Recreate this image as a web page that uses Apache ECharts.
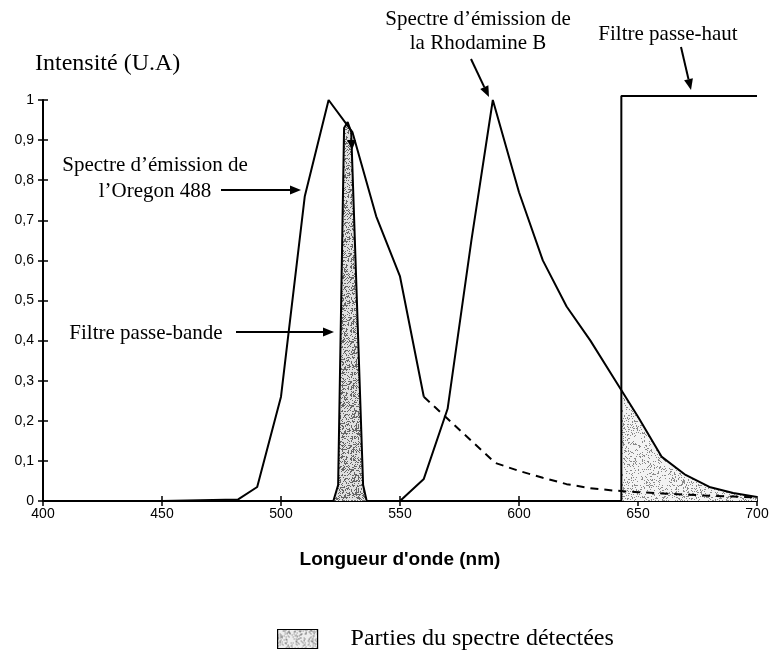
<!DOCTYPE html>
<html><head><meta charset="utf-8">
<script src="https://cdn.jsdelivr.net/npm/echarts@6/dist/echarts.min.js"></script>
<style>html,body{margin:0;padding:0;background:#fff}#c{width:775px;height:650px}</style>
</head><body><div id="c"></div>
<script>
// ---- data ----
const xTicks = [400, 450, 500, 550, 600, 650, 700];
const yTickLabels = ['0', '0,1', '0,2', '0,3', '0,4', '0,5', '0,6', '0,7', '0,8', '0,9', '1'];

const oregonNm  = [400, 450, 482, 490, 500, 510, 520, 530, 540, 550, 560];
const oregonVal = [0, 0, 0.004, 0.035, 0.26, 0.76, 1.0, 0.92, 0.71, 0.56, 0.26];

const oregonTailNm  = [560, 570, 580, 590, 600, 610, 620, 630, 640, 650, 660, 670, 680, 690, 700];
const oregonTailVal = [0.26, 0.205, 0.15, 0.095, 0.075, 0.058, 0.042, 0.032, 0.026, 0.022, 0.019, 0.016, 0.013, 0.011, 0.009];

const rhodNm  = [550, 560, 570, 580, 589, 600, 610, 620, 630, 640, 650, 660, 670, 680, 690, 700];
const rhodVal = [0, 0.055, 0.23, 0.65, 1.0, 0.77, 0.60, 0.485, 0.40, 0.305, 0.21, 0.11, 0.065, 0.035, 0.02, 0.01];

const bandNm  = [522, 524, 526.5, 528, 529.5, 534.5, 536];
const bandVal = [0, 0.04, 0.93, 0.945, 0.92, 0.04, 0];

const highPassNm  = [643, 643, 700];
const highPassVal = [0, 1.01, 1.01];

const detectNm  = [643, 650, 660, 670, 680, 690, 700];
const detectVal = [0.27, 0.21, 0.11, 0.065, 0.035, 0.02, 0.01];

const legendName = 'Parties du spectre détectées';

// ---- helpers ----
const zip = (xs, ys) => xs.map((x, i) => [x, ys[i]]);
function stipple(base, dot, pct) {
  const c = document.createElement('canvas');
  c.width = c.height = 64;
  const ctx = c.getContext('2d');
  ctx.fillStyle = base; ctx.fillRect(0, 0, 64, 64);
  ctx.fillStyle = dot;
  for (let i = 0; i < 64; i++) for (let j = 0; j < 64; j++) {
    const h = (Math.imul(i + 1, 73856093) ^ Math.imul(j + 7, 19349663) ^ Math.imul(i * j + 3, 83492791)) >>> 0;
    if (h % 100 < pct) ctx.fillRect(i, j, 1, 1);
  }
  return { image: c, repeat: 'repeat' };
}
const denseFill = stipple('#e0e0e0', '#666666', 34);
const lightFill = stipple('#f3f3f3', '#8a8a8a', 18);
const legendFill = stipple('#eeeeee', '#7a7a7a', 22);

const serif = '"Liberation Serif", "Times New Roman", serif';
const sans = '"Liberation Sans", Arial, sans-serif';

function arrow(x1, y1, x2, y2) {
  const a = Math.atan2(y2 - y1, x2 - x1), L = 11, W = 4.5;
  const bx = x2 - L * Math.cos(a), by = y2 - L * Math.sin(a);
  const px = -Math.sin(a) * W, py = Math.cos(a) * W;
  return [
    { type: 'line', shape: { x1, y1, x2: bx, y2: by }, style: { stroke: '#000', lineWidth: 2 }, z: 50 },
    { type: 'polygon', shape: { points: [[x2, y2], [bx + px, by + py], [bx - px, by - py]] }, style: { fill: '#000' }, z: 50 }
  ];
}
function txt(x, y, s, size, align) {
  return { type: 'text', x, y, style: { text: s, font: size + 'px ' + serif, fill: '#000', align: align || 'center', verticalAlign: 'middle' }, z: 50 };
}

const chart = echarts.init(document.getElementById('c'), null, { renderer: 'canvas' });
const lineBase = { type: 'line', showSymbol: false, symbol: 'none', smooth: false, animation: false };

chart.setOption({
  backgroundColor: '#fff',
  animation: false,
  grid: { left: 43, right: 18, top: 100, bottom: 149, containLabel: false },
  xAxis: [{
    type: 'value', min: 400, max: 700, interval: 50,
    axisLine: { show: true, lineStyle: { color: '#000', width: 2 } },
    axisTick: { show: true, length: 5, lineStyle: { color: '#000', width: 1.5 } },
    axisLabel: { margin: 6, color: '#000', fontFamily: sans, fontSize: 14,
      formatter: v => String(xTicks[Math.round((v - 400) / 50)]) },
    splitLine: { show: false },
    name: "Longueur d'onde (nm)", nameLocation: 'middle', nameGap: 49,
    nameTextStyle: { fontFamily: sans, fontWeight: 'bold', fontSize: 19, color: '#000' }
  }, {
    type: 'value', min: 400, max: 700, interval: 50, position: 'bottom',
    axisLine: { show: false }, axisLabel: { show: false }, splitLine: { show: false },
    axisTick: { show: true, inside: true, length: 5, lineStyle: { color: '#000', width: 1.5 } }
  }],
  yAxis: [{
    type: 'value', min: 0, max: 1, interval: 0.1,
    axisLine: { show: true, lineStyle: { color: '#000', width: 2 } },
    axisTick: { show: true, length: 5, lineStyle: { color: '#000', width: 1.5 } },
    axisLabel: { margin: 9, color: '#000', fontFamily: sans, fontSize: 14,
      formatter: v => yTickLabels[Math.round(v * 10)] },
    splitLine: { show: false }
  }, {
    type: 'value', min: 0, max: 1, interval: 0.1, position: 'left',
    axisLine: { show: false }, axisLabel: { show: false }, splitLine: { show: false },
    axisTick: { show: true, inside: true, length: 5, lineStyle: { color: '#000', width: 1.5 } }
  }],
  legend: {
    left: 272, top: 622, itemWidth: 40, itemHeight: 19, selectedMode: false,
    data: [{ name: legendName, icon: 'rect', itemStyle: { color: legendFill, borderColor: '#000', borderWidth: 1.2 } }],
    textStyle: { fontFamily: serif, fontSize: 24, color: '#000', padding: [0, 0, 0, 28] }
  },
  series: [
    Object.assign({}, lineBase, { name: legendName, data: zip(detectNm, detectVal), z: 1,
      lineStyle: { width: 0, opacity: 0 }, itemStyle: { color: legendFill }, areaStyle: { color: lightFill, opacity: 1 } }),
    Object.assign({}, lineBase, { name: 'Filtre passe-bande', data: zip(bandNm, bandVal), z: 3,
      lineStyle: { color: '#000', width: 2 }, areaStyle: { color: denseFill, opacity: 1 } }),
    Object.assign({}, lineBase, { name: 'Oregon 488', data: zip(oregonNm, oregonVal), z: 4,
      lineStyle: { color: '#000', width: 2 } }),
    Object.assign({}, lineBase, { name: 'Oregon 488 (suite)', data: zip(oregonTailNm, oregonTailVal), z: 4,
      lineStyle: { color: '#000', width: 2, type: [8, 6] } }),
    Object.assign({}, lineBase, { name: 'Rhodamine B', data: zip(rhodNm, rhodVal), z: 4,
      lineStyle: { color: '#000', width: 2 } }),
    Object.assign({}, lineBase, { name: 'Filtre passe-haut', data: zip(highPassNm, highPassVal), z: 4, clip: false,
      lineStyle: { color: '#000', width: 2 } })
  ],
  graphic: [
    txt(35, 64, 'Intensité (U.A)', 24, 'left'),
    txt(155, 165, 'Spectre d’émission de', 21),
    txt(155, 191, 'l’Oregon 488', 21),
    txt(146, 333, 'Filtre passe-bande', 21),
    txt(478, 19, 'Spectre d’émission de', 21),
    txt(478, 43, 'la Rhodamine B', 21),
    txt(668, 34, 'Filtre passe-haut', 21),
    ...arrow(221, 190, 301, 190),
    ...arrow(236, 332, 334, 332),
    ...arrow(471, 59, 489, 97),
    ...arrow(681, 47, 691, 90),
    { type: 'polygon', shape: { points: [[347, 140], [356, 140], [352, 150]] }, style: { fill: '#000' }, z: 50 }
  ]
});
</script>
</body></html>
